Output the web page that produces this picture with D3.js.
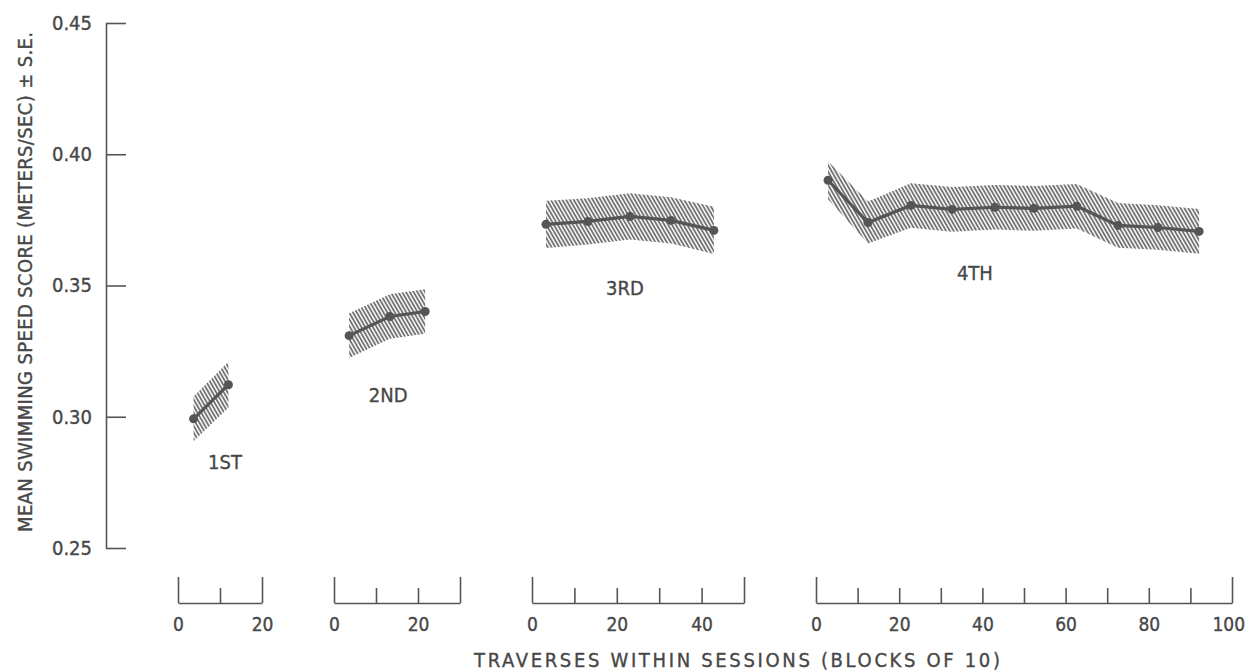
<!DOCTYPE html>
<html>
<head>
<meta charset="utf-8">
<script src="https://cdn.jsdelivr.net/npm/d3@7"></script>
<style>
  html, body { margin: 0; padding: 0; background: #fff; }
  svg { display: block; }
  text { font-family: "DejaVu Sans Condensed", "Liberation Sans Narrow", sans-serif; fill: #474747; stroke: #474747; stroke-width: 0.35px; }
</style>
</head>
<body>
<svg id="chart" width="1247" height="672"></svg>
<script>
// ---------- DATA ----------
const sessionNames = ["1ST", "2ND", "3RD", "4TH"];
const sessionMax = [20, 30, 50, 100];              // length of each session's x axis (blocks)
const s1Blocks = [3.7, 12];
const s1Means  = [0.2992, 0.3122];
const s1SE     = [0.0085, 0.0088];
const s2Blocks = [3.6, 13.3, 21.7];
const s2Means  = [0.3309, 0.3382, 0.3401];
const s2SE     = [0.0085, 0.0085, 0.0085];
const s3Blocks = [3.3, 13.2, 23.1, 32.8, 42.9];
const s3Means  = [0.3733, 0.3744, 0.3763, 0.3748, 0.3710];
const s3SE     = [0.0090, 0.0088, 0.0088, 0.0088, 0.0090];
const s4Blocks = [2.9, 12.5, 22.8, 32.7, 43.0, 52.4, 62.7, 72.6, 82.2, 92.1];
const s4Means  = [0.3901, 0.3740, 0.3805, 0.3790, 0.3798, 0.3794, 0.3802, 0.3729, 0.3721, 0.3706];
const s4SE     = [0.0072, 0.0080, 0.0085, 0.0085, 0.0085, 0.0085, 0.0085, 0.0085, 0.0085, 0.0085];
const yTicks = [0.25, 0.30, 0.35, 0.40, 0.45];
const xTicksBySession = [[0, 10, 20], [0, 10, 20, 30], [0, 10, 20, 30, 40, 50],
                         [0, 10, 20, 30, 40, 50, 60, 70, 80, 90, 100]];
const labelBlock = [11.2, 12.9, 21.9, 38.2];       // where each session label sits (blocks)
const labelValue = [0.2828, 0.3084, 0.3492, 0.3550];
const yTitle = "MEAN SWIMMING SPEED SCORE (METERS/SEC) \u00B1 S.E.";
const xTitle = "TRAVERSES WITHIN SESSIONS (BLOCKS OF 10)";

const sessions = [
  {blocks: s1Blocks, means: s1Means, se: s1SE},
  {blocks: s2Blocks, means: s2Means, se: s2SE},
  {blocks: s3Blocks, means: s3Means, se: s3SE},
  {blocks: s4Blocks, means: s4Means, se: s4SE}
].map((s, i) => ({
  name: sessionNames[i], max: sessionMax[i], ticks: xTicksBySession[i],
  lx: labelBlock[i], ly: labelValue[i],
  pts: s.blocks.map((b, j) => ({x: b, v: s.means[j], se: s.se[j]}))
}));

// ---------- LAYOUT ----------
const svg = d3.select("#chart");
const axisX = 106;
const y = d3.scaleLinear().domain([0.25, 0.45]).range([548, 23]);
const sessionRanges = [[178, 262], [334, 460], [532, 744], [816, 1232]];
const baseY = 603;
const ink = "#555";

// hatch pattern
const defs = svg.append("defs");
const pat = defs.append("pattern")
  .attr("id", "hatch").attr("patternUnits", "userSpaceOnUse")
  .attr("width", 3.3).attr("height", 10)
  .attr("patternTransform", "rotate(-30)");
pat.append("line").attr("x1", 1).attr("x2", 1).attr("y1", 0).attr("y2", 10)
  .attr("stroke", "#666").attr("stroke-width", 1.7);

// Y axis
const yAxis = d3.axisLeft(y).tickValues(yTicks).tickSize(-20).tickSizeOuter(0)
  .tickPadding(14).tickFormat(d3.format(".2f"));
const gy = svg.append("g").attr("transform", `translate(${axisX},0)`).call(yAxis);
gy.select(".domain").attr("stroke", ink).attr("stroke-width", 1.6);
gy.selectAll(".tick line").attr("stroke", ink).attr("stroke-width", 1.6);
gy.selectAll(".tick text").attr("font-size", 20).attr("fill", "#474747")
  .attr("font-family", null);

svg.append("text")
  .attr("transform", `translate(25,282) rotate(-90)`)
  .attr("text-anchor", "middle").attr("dy", "0.35em")
  .attr("font-size", 20)
  .attr("textLength", 500).attr("lengthAdjust", "spacing")
  .text(yTitle);

// Sessions
sessions.forEach((s, i) => {
  const x = d3.scaleLinear().domain([0, s.max]).range(sessionRanges[i]);

  const ax = d3.axisBottom(x).tickValues(s.ticks).tickSize(-15).tickSizeOuter(0)
    .tickPadding(15).tickFormat(d => d % 20 === 0 ? d : "");
  const g = svg.append("g").attr("transform", `translate(0,${baseY})`).call(ax);
  g.select(".domain").attr("stroke", ink).attr("stroke-width", 1.6);
  g.selectAll(".tick line").attr("stroke", ink).attr("stroke-width", 1.6)
    .attr("y2", d => (d === 0 || d === s.max) ? -26 : -15);
  g.selectAll(".tick text").attr("font-size", 19).attr("fill", "#474747")
    .attr("font-family", null);

  const area = d3.area().x(d => x(d.x)).y0(d => y(d.v - d.se)).y1(d => y(d.v + d.se));
  svg.append("path").datum(s.pts).attr("d", area).attr("fill", "url(#hatch)");

  const line = d3.line().x(d => x(d.x)).y(d => y(d.v));
  svg.append("path").datum(s.pts).attr("d", line)
    .attr("fill", "none").attr("stroke", ink).attr("stroke-width", 3.2);

  svg.append("g").selectAll("circle").data(s.pts).join("circle")
    .attr("cx", d => x(d.x)).attr("cy", d => y(d.v)).attr("r", 4.5)
    .attr("fill", ink);

  svg.append("text").attr("x", x(s.lx)).attr("y", y(s.ly))
    .attr("text-anchor", "middle").attr("dy", "0.36em")
    .attr("font-size", 20).text(s.name);
});

// keep the last "100" label inside the frame
svg.selectAll(".tick text").filter(d => d === 100).attr("dx", "-0.2em");

svg.append("text").attr("x", 737).attr("y", 666.5)
  .attr("text-anchor", "middle").attr("font-size", 20)
  .attr("textLength", 526).attr("lengthAdjust", "spacing")
  .text(xTitle);
</script>
</body>
</html>
